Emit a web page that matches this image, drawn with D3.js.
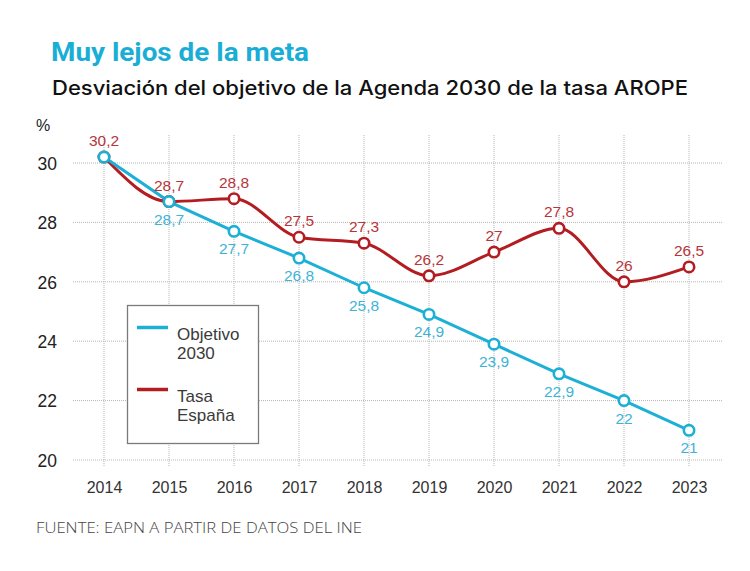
<!DOCTYPE html>
<html>
<head>
<meta charset="utf-8">
<script src="https://cdn.jsdelivr.net/npm/d3@7"></script>
<style>
  html, body { margin: 0; padding: 0; background: #fff; }
  svg { display: block; }
</style>
</head>
<body>
<svg id="chart" width="750" height="571"></svg>
<script>
// ---- Data ----
const years = [2014, 2015, 2016, 2017, 2018, 2019, 2020, 2021, 2022, 2023];
const objetivo = [30.2, 28.7, 27.7, 26.8, 25.8, 24.9, 23.9, 22.9, 22, 21];
const espana = [30.2, 28.7, 28.8, 27.5, 27.3, 26.2, 27, 27.8, 26, 26.5];
const yTicks = [20, 22, 24, 26, 28, 30];
const seriesNames = ["Objetivo\n2030", "Tasa\nEspaña"];

const title = "Muy lejos de la meta";
const subtitle = "Desviación del objetivo de la Agenda 2030 de la tasa AROPE";
const source = "FUENTE: EAPN A PARTIR DE DATOS DEL INE";

const CYAN = "#1db0d6";
const RED = "#b31d22";
const CYAN_TXT = "#3db4d6";
const RED_TXT = "#b7353a";

const svg = d3.select("#chart");
const fmt = v => String(v).replace(".", ",");

// ---- Scales ----
const x = d3.scalePoint().domain(years).range([104, 689]);
const y = d3.scaleLinear().domain([20, 30]).range([460, 163]);

// ---- Titles ----
svg.append("text").attr("x", 51).attr("y", 60.5)
  .attr("font-family", "Roboto, 'Liberation Sans', sans-serif")
  .attr("font-weight", 700).attr("font-size", 25.5)
  .attr("fill", "#1aaed6")
  .attr("textLength", 258).attr("lengthAdjust", "spacingAndGlyphs")
  .text(title);

svg.append("text").attr("x", 52).attr("y", 95)
  .attr("font-family", "Inter, Roboto, 'Liberation Sans', sans-serif")
  .attr("font-weight", 500).attr("font-size", 20)
  .attr("fill", "#111")
  .attr("textLength", 636).attr("lengthAdjust", "spacingAndGlyphs")
  .text(subtitle);

svg.append("text").attr("x", 36).attr("y", 131)
  .attr("font-family", "'Liberation Sans', Arial, sans-serif")
  .attr("font-size", 16).attr("fill", "#222")
  .text("%");

// ---- Grid ----
const grid = svg.append("g");
grid.selectAll("line.h").data(yTicks).join("line")
  .attr("x1", 73).attr("x2", 722)
  .attr("y1", d => y(d)).attr("y2", d => y(d))
  .attr("stroke", "#b5b5b5").attr("stroke-width", 1)
  .attr("stroke-dasharray", "1,1");
grid.selectAll("line.v").data(years).join("line")
  .attr("x1", d => x(d)).attr("x2", d => x(d))
  .attr("y1", 135).attr("y2", 467)
  .attr("stroke", "#b5b5b5").attr("stroke-width", 1)
  .attr("stroke-dasharray", "1,1");

// ---- Axes (labels only) ----
const yAxis = svg.append("g").attr("transform", "translate(57,0)")
  .call(d3.axisLeft(y).tickValues(yTicks).tickSize(0).tickPadding(0).tickFormat(d => d));
yAxis.select(".domain").remove();
yAxis.selectAll("text")
  .attr("font-family", "'Liberation Sans', Arial, sans-serif")
  .attr("font-size", 17.5).attr("fill", "#222").attr("dy", "0.36em");

const xAxis = svg.append("g").attr("transform", "translate(0,480)")
  .call(d3.axisBottom(x).tickSize(0).tickPadding(0).tickFormat(d => d));
xAxis.select(".domain").remove();
xAxis.selectAll("text")
  .attr("font-family", "'Liberation Sans', Arial, sans-serif")
  .attr("font-size", 16).attr("fill", "#333").attr("dy", "0.8em");

// ---- Legend box ----
svg.append("rect").attr("x", 127.5).attr("y", 305.5).attr("width", 131).attr("height", 138)
  .attr("fill", "#fff").attr("stroke", "#7a7a7a").attr("stroke-width", 1.3);

const legendItems = [
  { name: seriesNames[0], color: CYAN, y: 327.5 },
  { name: seriesNames[1], color: RED, y: 389.5 }
];
legendItems.forEach(it => {
  svg.append("line").attr("x1", 137).attr("x2", 168).attr("y1", it.y).attr("y2", it.y)
    .attr("stroke", it.color).attr("stroke-width", 3.5);
  const t = svg.append("text")
    .attr("font-family", "'Liberation Sans', Arial, sans-serif")
    .attr("font-size", 17).attr("fill", "#3a3a3a");
  it.name.split("\n").forEach((ln, i) => {
    t.append("tspan").attr("x", 177).attr("y", it.y + 12.5 + i * 19).text(ln);
  });
});

// ---- Lines ----
const dataE = years.map((yr, i) => ({ yr, v: espana[i] }));
const dataO = years.map((yr, i) => ({ yr, v: objetivo[i] }));

svg.append("path").datum(dataE)
  .attr("d", d3.line().x(d => x(d.yr)).y(d => y(d.v)).curve(d3.curveMonotoneX))
  .attr("fill", "none").attr("stroke", RED).attr("stroke-width", 3);

svg.append("path").datum(dataO)
  .attr("d", d3.line().x(d => x(d.yr)).y(d => y(d.v)))
  .attr("fill", "none").attr("stroke", CYAN).attr("stroke-width", 3);

// points
svg.append("g").selectAll("circle").data(dataE).join("circle")
  .attr("cx", d => x(d.yr)).attr("cy", d => y(d.v)).attr("r", 5.2)
  .attr("fill", "#fff").attr("stroke", RED).attr("stroke-width", 2.6);
svg.append("g").selectAll("circle").data(dataO).join("circle")
  .attr("cx", d => x(d.yr)).attr("cy", d => y(d.v)).attr("r", 5.2)
  .attr("fill", "#fff").attr("stroke", CYAN).attr("stroke-width", 2.6);

// labels
svg.append("g").selectAll("text").data(dataE).join("text")
  .attr("x", d => x(d.yr)).attr("y", d => y(d.v) - 11)
  .attr("text-anchor", "middle")
  .attr("font-family", "'Liberation Sans', Arial, sans-serif")
  .attr("font-size", 15.5).attr("fill", RED_TXT)
  .text(d => fmt(d.v));
svg.append("g").selectAll("text").data(dataO.slice(1)).join("text")
  .attr("x", d => x(d.yr)).attr("y", d => y(d.v) + 23)
  .attr("text-anchor", "middle")
  .attr("font-family", "'Liberation Sans', Arial, sans-serif")
  .attr("font-size", 15.5).attr("fill", CYAN_TXT)
  .text(d => fmt(d.v));

// ---- Source ----
svg.append("text").attr("x", 36).attr("y", 533)
  .attr("font-family", "'Open Sans', 'Liberation Sans', sans-serif")
  .attr("font-weight", 300).attr("font-size", 14.5).attr("fill", "#444")
  .attr("textLength", 326).attr("lengthAdjust", "spacingAndGlyphs")
  .text(source);
</script>
</body>
</html>
